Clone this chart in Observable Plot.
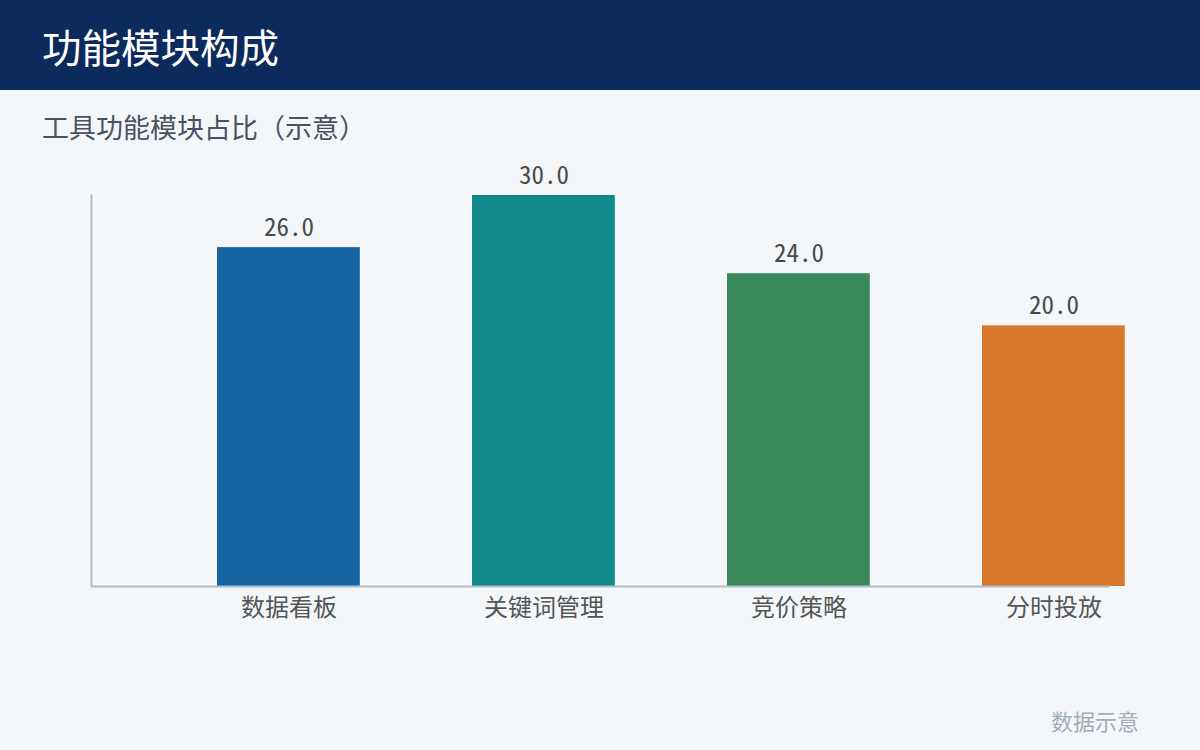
<!DOCTYPE html>
<html>
<head>
<meta charset="utf-8">
<script src="https://cdn.jsdelivr.net/npm/d3@7"></script>
<script src="https://cdn.jsdelivr.net/npm/@observablehq/plot@0.6"></script>
<style>
  html, body { margin: 0; padding: 0; }
  body { width: 1200px; height: 750px; background: #f4f7fa; position: relative; overflow: hidden;
         font-family: "Noto Sans CJK SC", "Noto Sans", sans-serif; }
  #header { position: absolute; left: 0; top: 0; width: 1200px; height: 90px; background: #0c2a5c; }
  #title { position: absolute; left: 42px; top: 18px; color: #ffffff; font-size: 39.5px; line-height: 56px; }
  #subtitle { position: absolute; left: 42px; top: 107px; color: #4a5260; font-size: 27px; line-height: 40px; }
  #chart { position: absolute; left: 0; top: 150px; }
  #footer { position: absolute; left: 1051px; top: 705px; color: #a3adb8; font-size: 22px; line-height: 30px; }
</style>
</head>
<body>
<div id="header"><div id="title">功能模块构成</div></div>
<div id="subtitle">工具功能模块占比（示意）</div>
<div id="chart"></div>
<div id="footer">数据示意</div>
<script>
const categories = ["数据看板", "关键词管理", "竞价策略", "分时投放"];
const values = [26.0, 30.0, 24.0, 20.0];
const colors = ["#1764a2", "#128a8c", "#3a8a59", "#d7782a"];

const data = categories.map((c, i) => ({category: c, value: values[i]}));

const chart = Plot.plot({
  width: 1200,
  height: 500,
  marginTop: 45,
  marginBottom: 64,
  marginLeft: 91,
  marginRight: 90,
  style: {background: "transparent", fontFamily: "\"Noto Sans CJK SC\", sans-serif"},
  x: {domain: categories, range: [104.8, 1237], padding: 0.44, round: false, label: null},
  y: {domain: [0, 30], axis: null},
  color: {domain: categories, range: colors},
  marks: [
    Plot.barY(data, {x: "category", y: "value", fill: "category"}),
    Plot.ruleY([0], {stroke: "#b3bdc8", strokeWidth: 2}),
    Plot.frame({anchor: "left", stroke: "#b3bdc8", strokeWidth: 2}),
    Plot.text(data, {x: "category", y: "value", text: d => d.value.toFixed(1), dy: -12, lineAnchor: "bottom",
      fontSize: 25, fill: "#4a4a4a", fontFamily: "\"Noto Sans Mono CJK SC\", \"Noto Sans CJK SC\", monospace"}),
    Plot.axisX({tickSize: 0, tickPadding: 12, fontSize: 24, fill: "#555555", label: null})
  ]
});
document.getElementById("chart").appendChild(chart);
</script>
</body>
</html>
